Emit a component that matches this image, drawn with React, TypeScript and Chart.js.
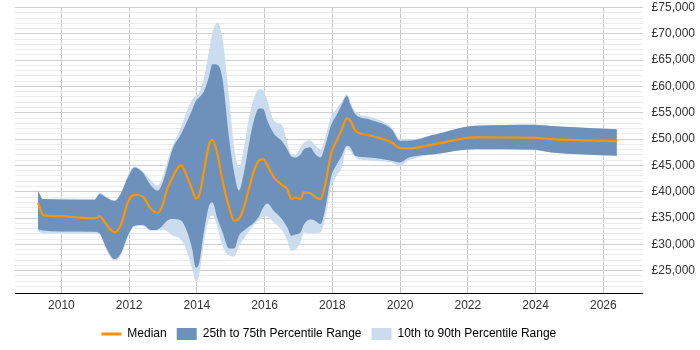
import React, { useEffect, useRef } from "react";
import { Chart, registerables } from "chart.js";

Chart.register(...registerables);

const years = [
  2009.31, 2009.46, 2009.95, 2010.98, 2011.13, 2011.32, 2011.57, 2011.77, 2011.96, 2012.16,
  2012.4, 2012.65, 2012.84, 2012.99, 2013.13, 2013.28, 2013.53, 2013.72, 2013.86, 2013.97,
  2014.07, 2014.22, 2014.36, 2014.46, 2014.61, 2014.75, 2014.95, 2015.1, 2015.24, 2015.39,
  2015.54, 2015.69, 2015.83, 2015.96, 2016.08, 2016.27, 2016.52, 2016.67, 2016.79, 2016.91,
  2017.06, 2017.16, 2017.35, 2017.48, 2017.65, 2017.79, 2017.96, 2018.13, 2018.28, 2018.43,
  2018.53, 2018.68, 2019.07, 2019.75, 2020.0, 2020.24, 2021.03, 2022.21, 2023.97, 2024.46,
  2026.4,
];

const median = [
  37900, 35560, 35350, 34930, 35310, 33850, 32270, 33950, 37970, 39390,
  39110, 36700, 35940, 37500, 40630, 42720, 45050, 42720, 40440, 38730,
  39360, 44290, 49040, 49880, 47090, 42340, 37020, 34500, 34800, 37020,
  40630, 44050, 45890, 46190, 45000, 42720, 41260, 40500, 38600, 38920,
  38600, 39870, 39740, 39110, 38600, 41400, 47140, 49740, 51830, 53920,
  53480, 51590, 50750, 49360, 48280, 48220, 49040, 50310, 50260, 49990,
  49600,
];

const p75 = [
  40200, 38600, 38540, 38480, 39550, 38920, 38290, 39870, 42720, 44620,
  43670, 41140, 40190, 41770, 44750, 48090, 50940, 53540, 55530, 57280,
  57910, 59240, 61940, 64230, 64100, 61710, 50260, 43670, 40250, 43670,
  49170, 53730, 55820, 55730, 53540, 51070, 49550, 48030, 46700, 46520,
  47090, 48090, 48420, 47270, 46520, 48790, 52590, 54620, 56580, 58230,
  56580, 54740, 53790, 51890, 49690, 49690, 50880, 52530, 52720, 52500,
  51890,
];

const p25 = [
  32840, 32650, 32460, 32400, 32080, 29420, 27200, 28480, 31650, 33550,
  33660, 32710, 32840, 33600, 34550, 34800, 34550, 32270, 29100, 25580,
  26580, 32900, 37340, 37970, 34800, 32460, 29230, 29230, 31650, 32650,
  33410, 34170, 35310, 37020, 37780, 36390, 34740, 33220, 31650, 31890,
  32270, 33790, 34740, 34550, 33850, 36700, 42720, 45190, 46900, 48730,
  48420, 46830, 46520, 45890, 45570, 46450, 47140, 48090, 47970, 47470,
  46840,
];

const p90 = [
  40200, 38600, 38730, 38640, 39870, 39110, 38290, 39870, 43100, 44800,
  43900, 42090, 41140, 42910, 45950, 48740, 52210, 55630, 57530, 58230,
  58860, 62030, 66840, 70250, 72150, 69300, 57910, 48420, 44620, 48420,
  54060, 57910, 59490, 59240, 57340, 53540, 52590, 49360, 47090, 47090,
  48420, 49360, 49740, 48980, 48030, 50310, 54300, 55820, 57150, 58550,
  57150, 55190, 54300, 52210, 49990, 49880, 50880, 52530, 52720, 52500,
  51890,
];

const p10 = [
  32460, 32080, 32080, 32080, 31890, 29040, 26900, 28100, 31330, 33410,
  33550, 32600, 32650, 32840, 32460, 31650, 30950, 28480, 25440, 23050,
  24300, 30950, 34930, 35440, 33220, 29800, 27910, 27720, 29620, 31130,
  32460, 33790, 34550, 35310, 35310, 34170, 32650, 30750, 28800, 29040,
  30380, 32270, 32080, 32080, 32270, 35120, 40630, 43100, 44620, 48420,
  47660, 46520, 45950, 45570, 44940, 45950, 47140, 48090, 47970, 47470,
  46840,
];

const xTicks = [2010, 2012, 2014, 2016, 2018, 2020, 2022, 2024, 2026];
const legendLabels = ["Median", "25th to 75th Percentile Range", "10th to 90th Percentile Range"];

const ORANGE = "#ff9500";
const DARK = "#6d91ba";
const LIGHT = "#cbdcee";
const FONT = "Arial, 'Liberation Sans', sans-serif";

const pts = (vals: number[]) => years.map((x, i) => ({ x, y: vals[i] }));

// center the legend under the plot area rather than the whole canvas
const legendCenter = {
  id: "legendCenter",
  afterLayout(chart: any) {
    const lg = chart.legend;
    if (!lg) return;
    const area = chart.chartArea;
    const shift = (area.left + area.right) / 2 - (lg.left + lg.right) / 2;
    lg.left += shift;
    lg.right += shift;
  },
};

export default function App() {
  const ref = useRef<HTMLCanvasElement | null>(null);
  useEffect(() => {
    document.body.style.margin = "0";
    const canvas = ref.current;
    if (!canvas) return;
    const common = {
      pointRadius: 0,
      pointHoverRadius: 0,
      borderWidth: 0,
      cubicInterpolationMode: "monotone" as const,
    };
    const chart = new Chart(canvas, {
      type: "line",
      plugins: [legendCenter],
      data: {
        datasets: [
          {
            label: legendLabels[0],
            data: pts(median),
            borderColor: ORANGE,
            borderWidth: 2.2,
            pointRadius: 0,
            fill: false,
            cubicInterpolationMode: "monotone",
            order: 0,
          },
          { ...common, label: "p75", data: pts(p75), backgroundColor: DARK, borderColor: DARK, fill: "+1", order: 1 },
          { ...common, label: "p25", data: pts(p25), backgroundColor: DARK, borderColor: DARK, fill: false, order: 1 },
          { ...common, label: "p90", data: pts(p90), backgroundColor: LIGHT, borderColor: LIGHT, fill: "+1", order: 2 },
          { ...common, label: "p10", data: pts(p10), backgroundColor: LIGHT, borderColor: LIGHT, fill: false, order: 2 },
        ],
      },
      options: {
        responsive: false,
        animation: false,
        layout: { padding: { left: 15, right: -4, top: 7.5, bottom: 0 } },
        scales: {
          x: {
            type: "linear",
            min: 2008.63,
            max: 2027.16,
            afterBuildTicks: (scale: any) => {
              scale.ticks = xTicks.map((v) => ({ value: v }));
            },
            ticks: {
              callback: (v: any) => String(v),
              font: { family: FONT, size: 12 },
              color: "#333",
              padding: 5,
              maxRotation: 0,
            },
            grid: { color: "#c8c8c8", drawTicks: false },
            border: { display: true, color: "#000", width: 1 },
          },
          y: {
            type: "linear",
            position: "right",
            min: 20650,
            max: 75000,
            afterBuildTicks: (scale: any) => {
              const t = [];
              for (let v = 22000; v <= 75000; v += 1000) t.push({ value: v });
              scale.ticks = t;
            },
            afterFit: (scale: any) => {
              scale.paddingTop = 0;
              scale.paddingBottom = 0;
            },
            ticks: {
              autoSkip: false,
              callback: (v: any) => (v % 5000 === 0 ? "£" + Number(v).toLocaleString("en-GB") : ""),
              font: { family: FONT, size: 12 },
              color: "#333",
              padding: 9,
            },
            grid: {
              drawTicks: false,
              color: (ctx: any) => (ctx.tick && ctx.tick.value % 5000 === 0 ? "#cfcfcf" : "#ebebeb"),
            },
            border: { display: false },
          },
        },
        plugins: {
          tooltip: { enabled: false },
          legend: {
            position: "bottom",
            labels: {
              usePointStyle: true,
              pointStyleWidth: 20,
              boxHeight: 12,
              padding: 10,
              color: "#222",
              font: { family: FONT, size: 12 },
              generateLabels: () => [
                { text: legendLabels[0], pointStyle: "line", strokeStyle: ORANGE, fillStyle: ORANGE, lineWidth: 3, hidden: false, datasetIndex: 0 },
                { text: legendLabels[1], pointStyle: "rect", strokeStyle: DARK, fillStyle: DARK, lineWidth: 0, hidden: false, datasetIndex: 1 },
                { text: legendLabels[2], pointStyle: "rect", strokeStyle: LIGHT, fillStyle: LIGHT, lineWidth: 0, hidden: false, datasetIndex: 3 },
              ],
            },
          },
        },
      } as any,
    });
    return () => chart.destroy();
  }, []);
  return <canvas ref={ref} width={700} height={350} style={{ display: "block" }} />;
}
